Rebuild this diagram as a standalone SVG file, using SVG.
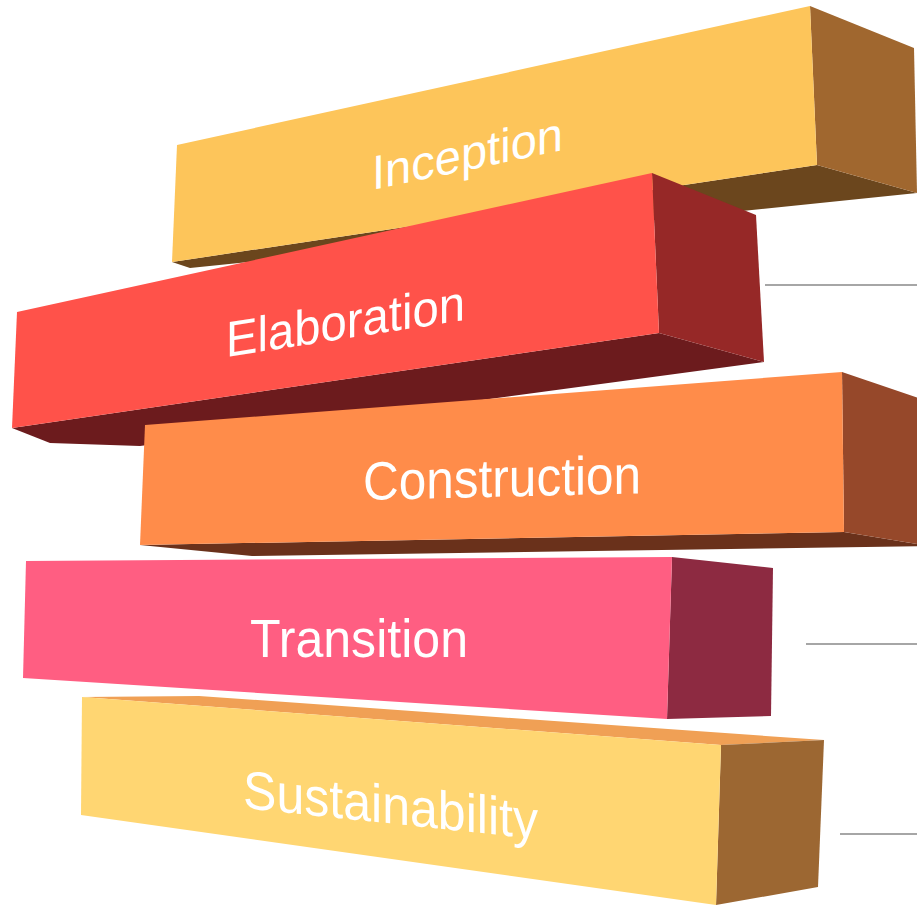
<svg xmlns="http://www.w3.org/2000/svg" width="917" height="905" viewBox="0 0 917 905">
<style>
.lbl{font-family:"Liberation Sans",Arial,sans-serif;fill:#ffffff;}
.conn{stroke:#a6a6a6;stroke-width:2;fill:none;}
</style>
<rect width="917" height="905" fill="#ffffff"/>
<g id="connectors">
<line class="conn" x1="765" y1="285" x2="917" y2="285"/>
<line class="conn" x1="806" y1="644" x2="917" y2="644"/>
<line class="conn" x1="840" y1="834" x2="917" y2="834"/>
</g>
<g id="inception">
<polygon points="172,262 817,165 917,193 190,268" fill="#6b461d"/>
<polygon points="810,6 914,48 917,193 817,165" fill="#a0672f"/>
<polygon points="177,145 810,6 817,165 172,262" fill="#fdc55a"/>
<text class="lbl" font-size="48" textLength="191" lengthAdjust="spacingAndGlyphs" transform="translate(372,190) skewY(-11.8)">Inception</text>
</g>
<g id="elaboration">
<polygon points="12,428 659,333 764,362 140,446 50,443" fill="#6c1b1d"/>
<polygon points="652,173 756,215 764,362 659,333" fill="#962827"/>
<polygon points="17,312 652,173 659,333 12,428" fill="#ff524a"/>
<text class="lbl" font-size="50" textLength="239" lengthAdjust="spacingAndGlyphs" transform="translate(226,357) skewY(-8.8)">Elaboration</text>
</g>
<g id="construction">
<polygon points="140,545 844,532 930,546 252,556" fill="#6a311b"/>
<polygon points="842,372 930,402 930,546 844,532" fill="#96482a"/>
<polygon points="145,425 842,372 844,532 140,545" fill="#ff8c4a"/>
<text class="lbl" font-size="54" textLength="278" lengthAdjust="spacingAndGlyphs" transform="translate(363,500) skewY(-1.4)">Construction</text>
</g>
<g id="sustainability">
<polygon points="82,697 199,696 824,740 721,745" fill="#f0a055"/>
<polygon points="721,745 824,740 818,887 716,905" fill="#9c6732"/>
<polygon points="82,697 721,745 716,905 81,815" fill="#ffd672"/>
<text class="lbl" font-size="54" textLength="295" lengthAdjust="spacingAndGlyphs" transform="translate(243,808) skewY(6)">Sustainability</text>
</g>
<g id="transition">
<polygon points="672,557 773,568 771,716 667,719" fill="#8d2a41"/>
<polygon points="26,561 672,557 667,719 23,678" fill="#ff5e82"/>
<text class="lbl" font-size="54" textLength="218" lengthAdjust="spacingAndGlyphs" transform="translate(250,657)">Transition</text>
</g>
</svg>
